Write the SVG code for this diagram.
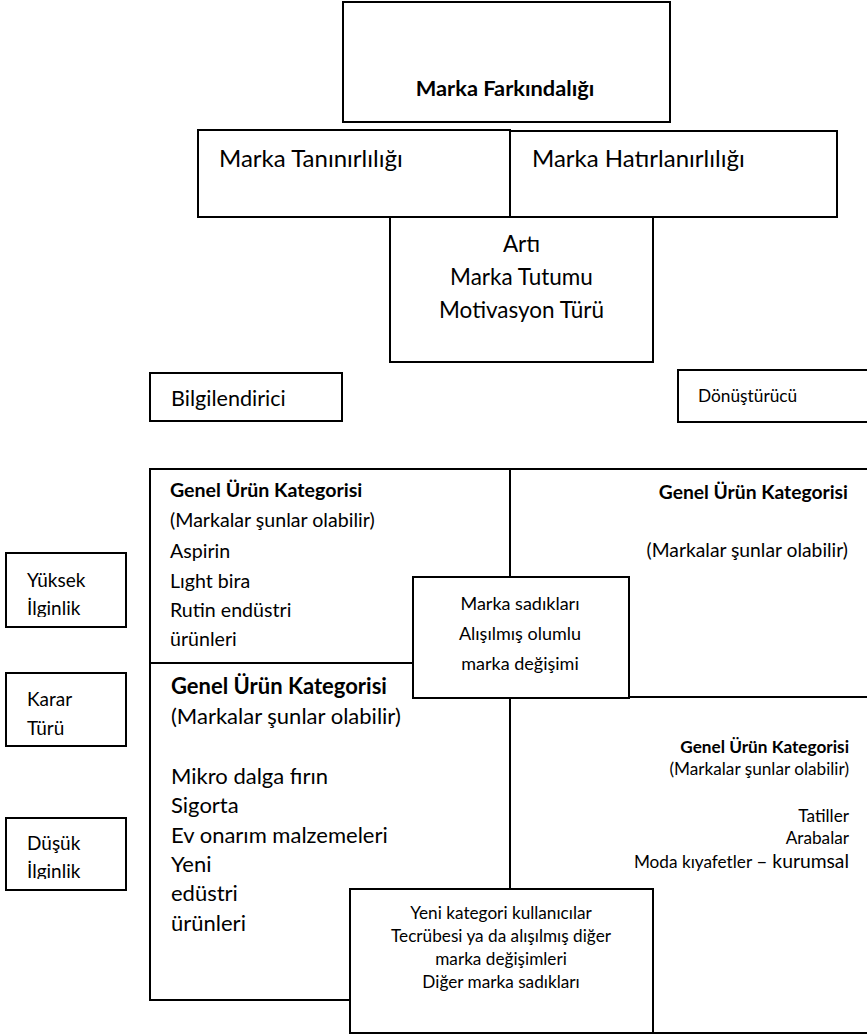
<svg xmlns="http://www.w3.org/2000/svg" width="867" height="1034" viewBox="0 0 867 1034">
  <style>
    .box { fill: #fff; stroke: #000; stroke-width: 2; }
    text { font-family: Lato, "Liberation Sans", sans-serif; fill: #000; }
    .b { font-weight: bold; }
    .c { text-anchor: middle; }
    .r { text-anchor: end; }
  </style>
  <defs>
    <clipPath id="clipHigh"><rect x="0" y="540" width="140" height="77"/></clipPath>
    <clipPath id="clipLow"><rect x="0" y="810" width="140" height="69"/></clipPath>
  </defs>
  <rect width="867" height="1034" fill="#fff"/>

  <!-- top of the hierarchy -->
  <g id="awareness">
    <rect class="box" x="343" y="2" width="327" height="120"/>
    <text class="b c" x="505" y="96" font-size="21.8">Marka Farkındalığı</text>
  </g>
  <g id="recognition">
    <rect class="box" x="198" y="130" width="312" height="87"/>
    <text x="219" y="167" font-size="24">Marka Tanınırlılığı</text>
  </g>
  <g id="recall">
    <rect class="box" x="510" y="131" width="327" height="86"/>
    <text x="532" y="167" font-size="24">Marka Hatırlanırlılığı</text>
  </g>
  <g id="attitude">
    <rect class="box" x="390" y="217" width="263" height="145"/>
    <text class="c" x="521.5" y="252" font-size="22.5">Artı</text>
    <text class="c" x="521.5" y="285" font-size="22.5">Marka Tutumu</text>
    <text class="c" x="521.5" y="318" font-size="22.5">Motivasyon Türü</text>
  </g>

  <!-- motivation labels -->
  <g id="informational">
    <rect class="box" x="150" y="373" width="192" height="48"/>
    <text x="171" y="406" font-size="21.6">Bilgilendirici</text>
  </g>
  <g id="transformational">
    <rect class="box" x="678" y="370" width="200" height="52"/>
    <text x="698" y="402" font-size="17.3">Dönüştürücü</text>
  </g>

  <!-- involvement labels -->
  <g id="high-involvement">
    <rect class="box" x="6" y="553" width="120" height="74"/>
    <text x="27" y="587" font-size="19">Yüksek</text>
    <text x="27" y="615" font-size="19" clip-path="url(#clipHigh)">İlginlik</text>
  </g>
  <g id="decision-type">
    <rect class="box" x="6" y="673" width="120" height="73"/>
    <text x="27" y="706" font-size="19">Karar</text>
    <text x="27" y="735" font-size="19">Türü</text>
  </g>
  <g id="low-involvement">
    <rect class="box" x="6" y="818" width="120" height="72"/>
    <text x="27" y="850" font-size="19">Düşük</text>
    <text x="27" y="878" font-size="19" clip-path="url(#clipLow)">İlginlik</text>
  </g>

  <!-- four category quadrants -->
  <g id="quadrant-top-left">
    <rect class="box" x="150" y="469" width="360" height="194"/>
    <text class="b" x="170" y="497" font-size="19.6">Genel Ürün Kategorisi</text>
    <text x="170" y="527" font-size="19.6">(Markalar şunlar olabilir)</text>
    <text x="170" y="558" font-size="19.6">Aspirin</text>
    <text x="170" y="588" font-size="19.6">Lıght bira</text>
    <text x="170" y="617" font-size="19.6">Rutin endüstri</text>
    <text x="170" y="646" font-size="19.6">ürünleri</text>
  </g>
  <g id="quadrant-top-right">
    <rect class="box" x="510" y="469" width="360" height="228"/>
    <text class="b r" x="848" y="499" font-size="19.3">Genel Ürün Kategorisi</text>
    <text class="r" x="848" y="557" font-size="19.3">(Markalar şunlar olabilir)</text>
  </g>
  <g id="quadrant-bottom-left">
    <rect class="box" x="150" y="663" width="360" height="337"/>
    <text class="b" x="171" y="694" font-size="22">Genel Ürün Kategorisi</text>
    <text x="171" y="724" font-size="22">(Markalar şunlar olabilir)</text>
    <text x="171" y="784" font-size="22">Mikro dalga fırın</text>
    <text x="171" y="813" font-size="22">Sigorta</text>
    <text x="171" y="843" font-size="22">Ev onarım malzemeleri</text>
    <text x="171" y="872" font-size="22">Yeni</text>
    <text x="171" y="901" font-size="22">edüstri</text>
    <text x="171" y="931" font-size="22">ürünleri</text>
  </g>
  <g id="quadrant-bottom-right">
    <rect class="box" x="510" y="697" width="360" height="336"/>
    <text class="b r" x="849" y="753" font-size="17.2">Genel Ürün Kategorisi</text>
    <text class="r" x="849" y="775" font-size="17.2">(Markalar şunlar olabilir)</text>
    <text class="r" x="849" y="822" font-size="17.2">Tatiller</text>
    <text class="r" x="849" y="844" font-size="17.2">Arabalar</text>
    <text class="r" x="849" y="868" font-size="17.2">Moda kıyafetler <tspan font-size="19.3">– kurumsal</tspan></text>
  </g>

  <!-- overlay boxes -->
  <g id="loyal-switchers">
    <rect class="box" x="413" y="577" width="216" height="121"/>
    <text class="c" x="520" y="610" font-size="18">Marka sadıkları</text>
    <text class="c" x="520" y="640" font-size="18">Alışılmış olumlu</text>
    <text class="c" x="520" y="670" font-size="18">marka değişimi</text>
  </g>
  <g id="new-users">
    <rect class="box" x="350" y="889" width="303" height="144"/>
    <text class="c" x="501" y="919" font-size="17.2">Yeni kategori kullanıcılar</text>
    <text class="c" x="501" y="942" font-size="17.2">Tecrübesi ya da alışılmış diğer</text>
    <text class="c" x="501" y="965" font-size="17.2">marka değişimleri</text>
    <text class="c" x="501" y="988" font-size="17.2">Diğer marka sadıkları</text>
  </g>
</svg>
